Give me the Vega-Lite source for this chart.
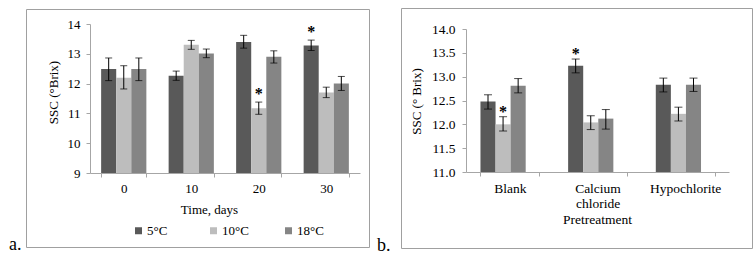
{
  "$schema": "https://vega.github.io/schema/vega-lite/v6.json",
  "background": "white",
  "padding": {"left": 8, "top": 7, "right": 2, "bottom": 2},
  "bounds": "flush",
  "spacing": 32,
  "center": true,
  "config": {
    "view": {"stroke": "#a0a0a0", "strokeWidth": 1},
    "font": "Liberation Serif",
    "text": {"font": "Liberation Serif"},
    "axis": {
      "grid": false,
      "domainColor": "#a6a6a6",
      "tickColor": "#a6a6a6",
      "tickSize": 4,
      "labelColor": "#000000",
      "titleColor": "#000000",
      "labelFont": "Liberation Serif",
      "titleFont": "Liberation Serif",
      "labelFontSize": 13,
      "titleFontSize": 13,
      "titleFontWeight": "normal",
      "labelOverlap": false
    },
    "legend": {
      "labelFont": "Liberation Serif",
      "labelColor": "#000000",
      "symbolType": "square",
      "symbolStrokeWidth": 0,
      "padding": 0
    }
  },
  "hconcat": [
    {
      "width": 343,
      "height": 238,
      "title": {"text": "a.", "orient": "bottom", "anchor": "start", "frame": "group", "dx": -17, "offset": 3, "baseline": "alphabetic", "fontSize": 18, "fontWeight": "normal", "font": "Liberation Serif", "color": "#000000"},
      "data": {"values": [
        {"day": "0", "temp": "5°C", "v": 12.49, "lo": 12.1, "hi": 12.86, "star": ""},
        {"day": "0", "temp": "10°C", "v": 12.2, "lo": 11.82, "hi": 12.6, "star": ""},
        {"day": "0", "temp": "18°C", "v": 12.49, "lo": 12.1, "hi": 12.86, "star": ""},
        {"day": "10", "temp": "5°C", "v": 12.26, "lo": 12.11, "hi": 12.42, "star": ""},
        {"day": "10", "temp": "10°C", "v": 13.3, "lo": 13.15, "hi": 13.45, "star": ""},
        {"day": "10", "temp": "18°C", "v": 13.01, "lo": 12.87, "hi": 13.16, "star": ""},
        {"day": "20", "temp": "5°C", "v": 13.4, "lo": 13.19, "hi": 13.62, "star": ""},
        {"day": "20", "temp": "10°C", "v": 11.17, "lo": 10.97, "hi": 11.38, "star": "*"},
        {"day": "20", "temp": "18°C", "v": 12.9, "lo": 12.69, "hi": 13.1, "star": ""},
        {"day": "30", "temp": "5°C", "v": 13.28, "lo": 13.11, "hi": 13.46, "star": "*"},
        {"day": "30", "temp": "10°C", "v": 11.7, "lo": 11.53, "hi": 11.88, "star": ""},
        {"day": "30", "temp": "18°C", "v": 12.0, "lo": 11.77, "hi": 12.24, "star": ""}
      ]},
      "encoding": {
        "x": {"field": "day", "type": "nominal",
          "scale": {"range": [64, 334], "paddingInner": 0.33, "paddingOuter": 0.165},
          "axis": {"title": "Time, days", "orient": "bottom", "offset": -74, "labelAngle": 0, "tickBand": "extent", "labelPadding": 5, "labelFont": "Liberation Serif", "titleFont": "Liberation Serif", "titleX": 183, "titleY": 36, "titleBaseline": "middle"}},
        "xOffset": {"field": "temp", "type": "nominal", "scale": {"domain": ["5°C", "10°C", "18°C"]}}
      },
      "layer": [
        {
          "mark": {"type": "bar"},
          "encoding": {
            "y": {"field": "v", "type": "quantitative",
              "scale": {"domain": [9, 14], "range": [164, 15], "nice": false, "zero": false},
              "axis": {"title": "SSC (°Brix)", "offset": -64, "values": [9, 10, 11, 12, 13, 14], "tickCount": 10, "format": "d", "labelPadding": 6, "labelFont": "Liberation Serif", "titleFont": "Liberation Serif", "titleX": -37, "titleY": 83, "titleBaseline": "middle"}},
            "y2": {"datum": 9},
            "color": {"field": "temp", "type": "nominal",
              "scale": {"domain": ["5°C", "10°C", "18°C"], "range": ["#595959", "#bdbdbd", "#858585"]},
              "legend": {"title": null, "orient": "none", "legendX": 106, "legendY": 216, "direction": "horizontal", "columns": 3, "gridAlign": "all", "columnPadding": 33, "symbolSize": 49, "labelFont": "Liberation Serif", "labelFontSize": 13, "labelOffset": 2}}
          }
        },
        {
          "mark": {"type": "rule", "color": "#000000", "strokeWidth": 1},
          "encoding": {"y": {"field": "lo", "type": "quantitative", "title": "SSC (°Brix)"}, "y2": {"field": "hi"}}
        },
        {
          "mark": {"type": "tick", "color": "#000000", "size": 7, "thickness": 1},
          "encoding": {"y": {"field": "lo", "type": "quantitative", "title": "SSC (°Brix)"}}
        },
        {
          "mark": {"type": "tick", "color": "#000000", "size": 7, "thickness": 1},
          "encoding": {"y": {"field": "hi", "type": "quantitative", "title": "SSC (°Brix)"}}
        },
        {
          "transform": [{"filter": "datum.star == '*'"}],
          "mark": {"type": "text", "text": "*", "font": "Liberation Serif", "fontSize": 16, "fontWeight": "bold", "baseline": "alphabetic", "dy": -3, "color": "#000000"},
          "encoding": {"y": {"field": "hi", "type": "quantitative", "title": "SSC (°Brix)"}}
        }
      ]
    },
    {
      "width": 351,
      "height": 240,
      "title": {"text": "b.", "orient": "bottom", "anchor": "start", "frame": "group", "dx": -24, "offset": 3, "baseline": "alphabetic", "fontSize": 18, "fontWeight": "normal", "font": "Liberation Serif", "color": "#000000"},
      "data": {"values": [
        {"trt": "Blank", "temp": "5°C", "v": 12.48, "lo": 12.32, "hi": 12.62, "star": ""},
        {"trt": "Blank", "temp": "10°C", "v": 12.0, "lo": 11.86, "hi": 12.16, "star": "*"},
        {"trt": "Blank", "temp": "18°C", "v": 12.81, "lo": 12.66, "hi": 12.96, "star": ""},
        {"trt": "Calcium chloride", "temp": "5°C", "v": 13.23, "lo": 13.08, "hi": 13.37, "star": "*"},
        {"trt": "Calcium chloride", "temp": "10°C", "v": 12.04, "lo": 11.89, "hi": 12.18, "star": ""},
        {"trt": "Calcium chloride", "temp": "18°C", "v": 12.12, "lo": 11.9, "hi": 12.31, "star": ""},
        {"trt": "Hypochlorite", "temp": "5°C", "v": 12.83, "lo": 12.68, "hi": 12.97, "star": ""},
        {"trt": "Hypochlorite", "temp": "10°C", "v": 12.22, "lo": 12.07, "hi": 12.36, "star": ""},
        {"trt": "Hypochlorite", "temp": "18°C", "v": 12.83, "lo": 12.69, "hi": 12.97, "star": ""}
      ]},
      "encoding": {
        "x": {"field": "trt", "type": "nominal",
          "scale": {"range": [65, 328], "paddingInner": 0.33, "paddingOuter": 0.165},
          "axis": {"title": "Pretreatment", "orient": "bottom", "offset": -76, "labelAngle": 0, "tickBand": "extent", "labelPadding": 5, "labelFont": "Liberation Serif", "titleFont": "Liberation Serif", "labelFontSize": 13.5, "titleFontSize": 13.5, "labelLineHeight": 15.5, "labelExpr": "datum.label == 'Calcium chloride' ? ['Calcium', 'chloride'] : datum.label", "titleX": 196, "titleY": 47, "titleBaseline": "middle"}},
        "xOffset": {"field": "temp", "type": "nominal", "scale": {"domain": ["5°C", "10°C", "18°C"]}}
      },
      "layer": [
        {
          "mark": {"type": "bar"},
          "encoding": {
            "y": {"field": "v", "type": "quantitative",
              "scale": {"domain": [11, 14], "range": [164, 21], "nice": false, "zero": false},
              "axis": {"title": "SSC  (° Brix)", "offset": -65, "values": [11, 11.5, 12, 12.5, 13, 13.5, 14], "tickCount": 10, "format": ".1f", "labelOverlap": false, "labelPadding": 7, "labelFont": "Liberation Serif", "titleFont": "Liberation Serif", "labelFontSize": 13.5, "titleFontSize": 13, "titleX": -50, "titleY": 93, "titleBaseline": "middle"}},
            "y2": {"datum": 11},
            "color": {"field": "temp", "type": "nominal",
              "scale": {"domain": ["5°C", "10°C", "18°C"], "range": ["#595959", "#bdbdbd", "#858585"]},
              "legend": {"title": null, "orient": "none", "legendX": 132, "legendY": 223, "direction": "horizontal", "columnPadding": 8, "symbolSize": 42, "labelFont": "Liberation Serif", "labelFontSize": 13.5, "labelOffset": 1}}
          }
        },
        {
          "mark": {"type": "rule", "color": "#000000", "strokeWidth": 1},
          "encoding": {"y": {"field": "lo", "type": "quantitative", "title": "SSC  (° Brix)"}, "y2": {"field": "hi"}}
        },
        {
          "mark": {"type": "tick", "color": "#000000", "size": 8, "thickness": 1},
          "encoding": {"y": {"field": "lo", "type": "quantitative", "title": "SSC  (° Brix)"}}
        },
        {
          "mark": {"type": "tick", "color": "#000000", "size": 8, "thickness": 1},
          "encoding": {"y": {"field": "hi", "type": "quantitative", "title": "SSC  (° Brix)"}}
        },
        {
          "transform": [{"filter": "datum.star == '*'"}],
          "mark": {"type": "text", "text": "*", "font": "Liberation Serif", "fontSize": 16, "fontWeight": "bold", "baseline": "alphabetic", "dy": 0, "color": "#000000"},
          "encoding": {"y": {"field": "hi", "type": "quantitative", "title": "SSC  (° Brix)"}}
        }
      ]
    }
  ]
}
